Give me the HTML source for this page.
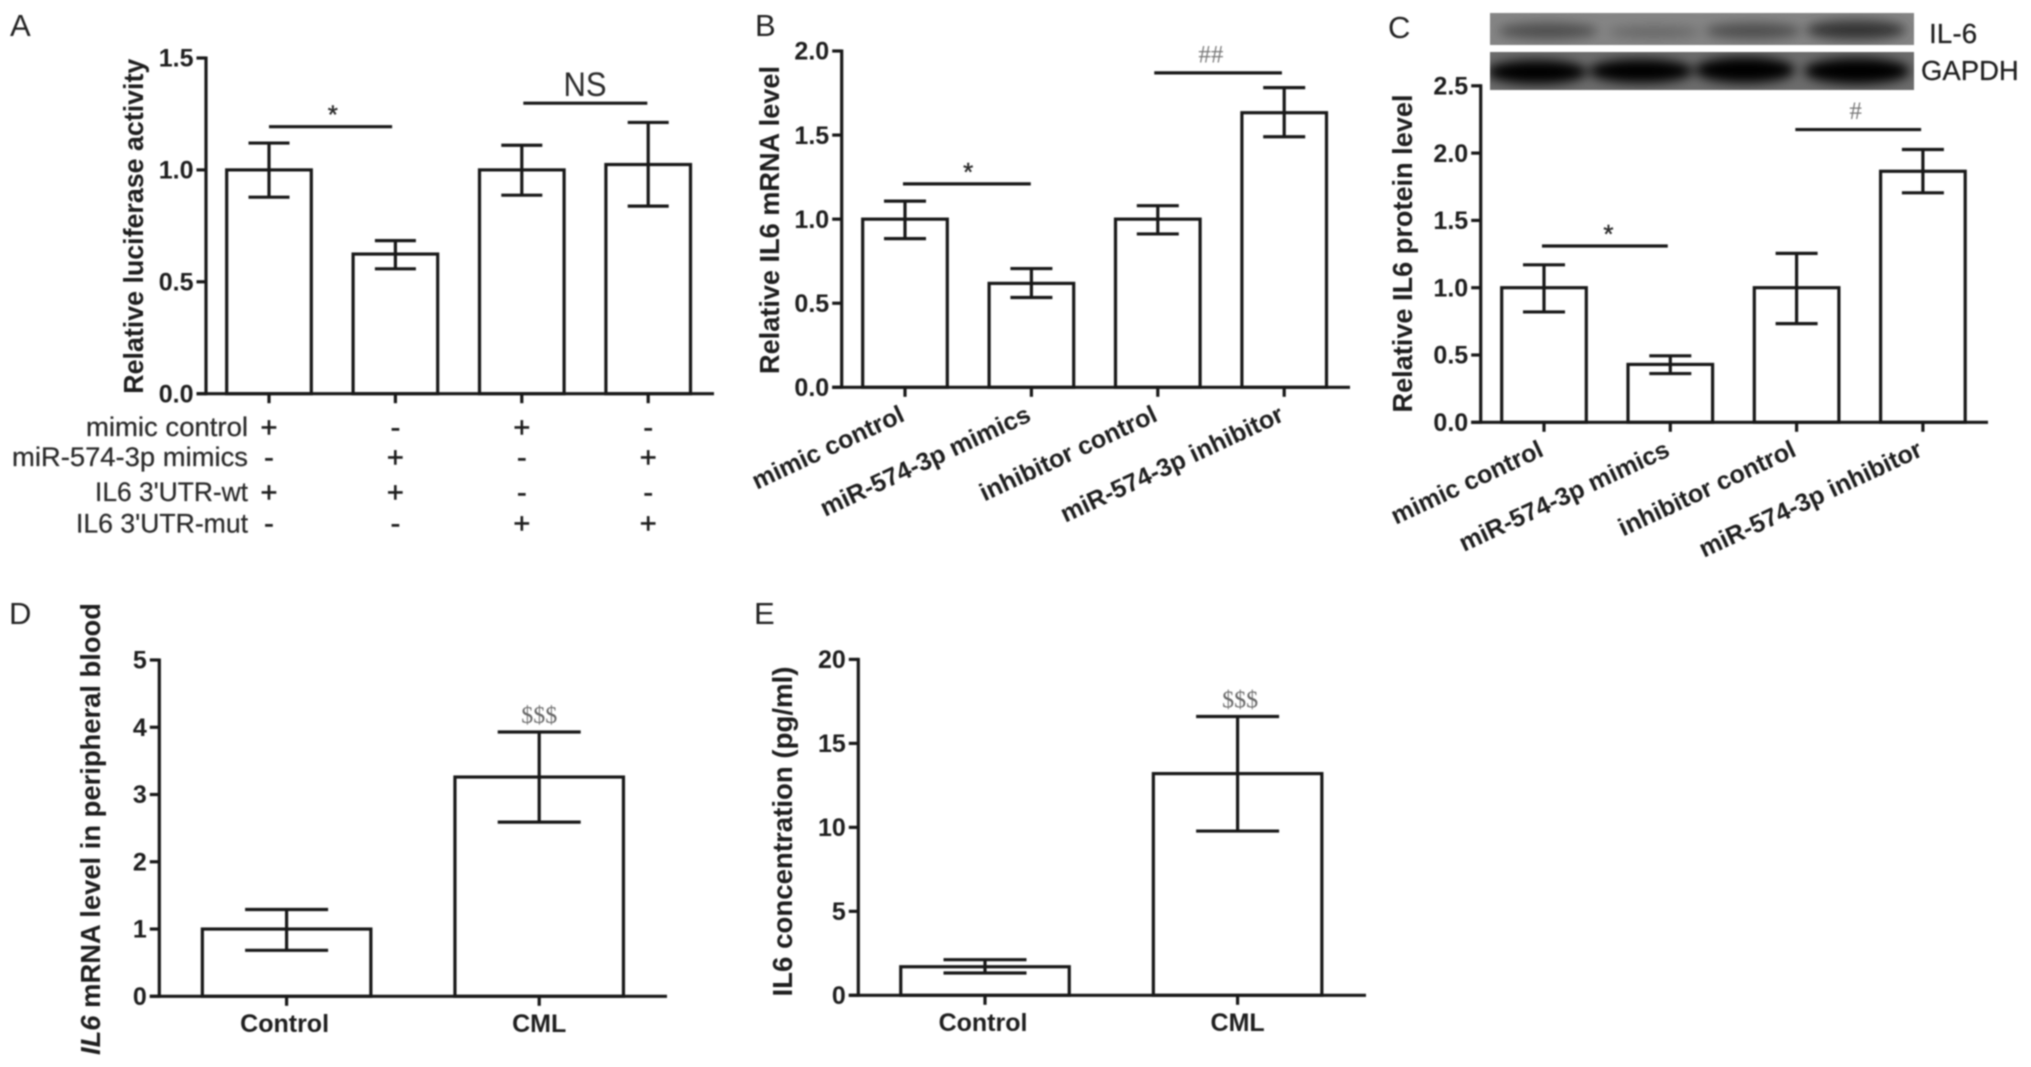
<!DOCTYPE html>
<html lang="en">
<head>
<meta charset="utf-8">
<title>IL6 bar chart figure</title>
<style>
html,body{margin:0;padding:0;background:#fff;}
body{width:2031px;height:1067px;overflow:hidden;}
svg{display:block;filter:blur(0.7px);}
text{font-family:"Liberation Sans",sans-serif;fill:#1e1e1e;}
.letter{font-size:31px;fill:#222;}
.ytitle{font-size:27.5px;font-weight:bold;}
.row{font-size:27px;text-anchor:end;fill:#2a2a2a;stroke:#2a2a2a;stroke-width:0.25;}
</style>
</head>
<body>
<svg id="fig" xmlns="http://www.w3.org/2000/svg" width="2031" height="1067" viewBox="0 0 2031 1067">
  <defs>
    <filter id="blot-blur" x="-20%" y="-80%" width="140%" height="260%"><feGaussianBlur stdDeviation="5.5"></feGaussianBlur></filter>
    <clipPath id="clip-il6"><rect x="1490" y="13" width="424" height="32"></rect></clipPath>
    <clipPath id="clip-gapdh"><rect x="1490" y="52" width="424" height="38"></rect></clipPath>
  </defs>
  <rect width="2031" height="1067" fill="#fff"></rect>

  <text class="letter" x="10" y="36">A</text>
  <text class="letter" x="755" y="36">B</text>
  <text class="letter" x="1388" y="38">C</text>
  <text class="letter" x="9" y="624">D</text>
  <text class="letter" x="754" y="624">E</text>

  <text class="ytitle" transform="translate(143,393.7) rotate(-90)" textLength="335" lengthAdjust="spacingAndGlyphs">Relative luciferase activity</text>
  <text class="ytitle" transform="translate(779,374) rotate(-90)" textLength="308" lengthAdjust="spacingAndGlyphs">Relative IL6 mRNA level</text>
  <text class="ytitle" transform="translate(1412,412.5) rotate(-90)" textLength="318" lengthAdjust="spacingAndGlyphs">Relative IL6 protein level</text>
  <text class="ytitle" transform="translate(100,1055) rotate(-90)" textLength="452" lengthAdjust="spacingAndGlyphs"><tspan font-style="italic">IL6</tspan> mRNA level in peripheral blood</text>
  <text class="ytitle" transform="translate(792,996.5) rotate(-90)" textLength="330" lengthAdjust="spacingAndGlyphs">IL6 concentration (pg/ml)</text>

  <text class="row" x="248" y="436" textLength="162" lengthAdjust="spacingAndGlyphs">mimic control</text>
  <text class="row" x="248" y="466" textLength="236" lengthAdjust="spacingAndGlyphs">miR-574-3p mimics</text>
  <text class="row" x="248" y="501" textLength="153" lengthAdjust="spacingAndGlyphs">IL6 3'UTR-wt</text>
  <text class="row" x="248" y="532.5" textLength="172" lengthAdjust="spacingAndGlyphs">IL6 3'UTR-mut</text>

  <g>
    <rect x="1490" y="13" width="424" height="32" fill="#858585"></rect>
    <g clip-path="url(#clip-il6)"><g filter="url(#blot-blur)">
      <ellipse cx="1548" cy="31" rx="50" ry="8" fill="#4e4e4e"></ellipse>
      <ellipse cx="1654" cy="32" rx="46" ry="6" fill="#666"></ellipse>
      <ellipse cx="1753" cy="31" rx="48" ry="8" fill="#4e4e4e"></ellipse>
      <ellipse cx="1856" cy="30" rx="50" ry="10" fill="#363636"></ellipse>
    </g></g>
  </g>
  <g>
    <rect x="1490" y="52" width="424" height="38" fill="#6c6c6c"></rect>
    <g clip-path="url(#clip-gapdh)"><g filter="url(#blot-blur)">
      <ellipse cx="1537" cy="72" rx="50" ry="12" fill="#060606"></ellipse>
      <ellipse cx="1641" cy="71" rx="52" ry="12" fill="#060606"></ellipse>
      <ellipse cx="1745" cy="70" rx="50" ry="13" fill="#060606"></ellipse>
      <ellipse cx="1857" cy="71" rx="53" ry="13" fill="#020202"></ellipse>
    </g></g>
  </g>
  <text x="1929" y="43" font-size="28" stroke="#1e1e1e" stroke-width="0.25">IL-6</text>
  <text x="1921" y="80" font-size="27.5" stroke="#1e1e1e" stroke-width="0.25">GAPDH</text>
</svg>

<script>
// Panel A data
const aCategories = ['mimic control', 'miR-574-3p mimics', 'mimic control + mut', 'miR-574-3p mimics + mut'];
const aValues = [1.0, 0.624, 1.0, 1.024];
const aErrHigh = [1.12, 0.684, 1.11, 1.212];
const aErrLow = [0.878, 0.558, 0.887, 0.838];
const aTickLabels = ['0.0', '0.5', '1.0', '1.5'];
const aRowMimicControl = ['+', '-', '+', '-'];
const aRowMimics = ['-', '+', '-', '+'];
const aRowWt = ['+', '+', '-', '-'];
const aRowMut = ['-', '-', '+', '+'];

// Panel B data
const bCategories = ['mimic control', 'miR-574-3p mimics', 'inhibitor control', 'miR-574-3p inhibitor'];
const bValues = [1.0, 0.618, 1.0, 1.633];
const bErrHigh = [1.107, 0.706, 1.08, 1.782];
const bErrLow = [0.884, 0.534, 0.912, 1.49];
const bTickLabels = ['0.0', '0.5', '1.0', '1.5', '2.0'];

// Panel C data
const cCategories = ['mimic control', 'miR-574-3p mimics', 'inhibitor control', 'miR-574-3p inhibitor'];
const cValues = [1.0, 0.43, 1.0, 1.865];
const cErrHigh = [1.17, 0.494, 1.255, 2.027];
const cErrLow = [0.82, 0.362, 0.733, 1.705];
const cTickLabels = ['0.0', '0.5', '1.0', '1.5', '2.0', '2.5'];

// Panel D data
const dCategories = ['Control', 'CML'];
const dValues = [1.0, 3.26];
const dErrHigh = [1.29, 3.93];
const dErrLow = [0.684, 2.59];
const dTickLabels = ['0', '1', '2', '3', '4', '5'];

// Panel E data
const eCategories = ['Control', 'CML'];
const eValues = [1.7, 13.2];
const eErrHigh = [2.12, 16.6];
const eErrLow = [1.33, 9.78];
const eTickLabels = ['0', '5', '10', '15', '20'];

// Significance annotations: [from category, to category, level in data units, label, label category position]
const aSignificance = [[0, 0.974, 1.193, '*', 0.505], [2.012, 2.993, 1.298, 'NS', 2.5]];
const bSignificance = [[-0.016, 0.995, 1.21, '*', 0.5], [1.972, 2.982, 1.87, '##', 2.42]];
const cSignificance = [[-0.016, 0.98, 1.31, '*', 0.51], [1.99, 2.986, 2.175, '#', 2.467]];
const dSignificance = [[1, 1, 3.93, '$$$', 1.0]];
const eSignificance = [[1, 1, 16.6, '$$$', 1.01]];

const SVGNS = 'http://www.w3.org/2000/svg';
const root = document.getElementById('fig');
const INK = '#181818';

function make(tag, parent, attrs, txt) {
  const el = document.createElementNS(SVGNS, tag);
  for (const k in attrs) el.setAttribute(k, attrs[k]);
  if (txt !== undefined) el.textContent = txt;
  parent.appendChild(el);
  return el;
}

function seg(parent, x1, y1, x2, y2, w) {
  return make('line', parent, {x1: x1, y1: y1, x2: x2, y2: y2, stroke: INK, 'stroke-width': w || 3.2});
}

function drawPanel(p) {
  const g = make('g', root, {});
  
  

  const nums = p.ticks.map(Number);
  const vMin = nums[0];
  const vMax = nums[nums.length - 1];
  const yScale = v => p.y0 - (v - vMin) / (vMax - vMin) * (p.y0 - p.yTop);
  const xScale = i => p.xFirst + i * p.xStep;

  // bars
  p.values.forEach((v, i) => {
    const bar = make('rect', g, {
      x: xScale(i) - p.barW / 2, y: yScale(v),
      width: p.barW, height: p.y0 - yScale(v),
      fill: '#fff', stroke: INK, 'stroke-width': 3.2
    });
    
    
  });

  // error bars
  p.values.forEach((v, i) => {
    const eb = make('g', g, {});
    
    
    const cx = xScale(i);
    const hi = yScale(p.high[i]);
    const lo = yScale(p.low[i]);
    seg(eb, cx, hi, cx, lo);
    seg(eb, cx - p.capW / 2, hi, cx + p.capW / 2, hi);
    seg(eb, cx - p.capW / 2, lo, cx + p.capW / 2, lo);
  });

  // axes
  const yAxis = seg(g, p.axisX, p.yTop - 1.5, p.axisX, p.y0 + 1.5);
  
  
  const xAxis = seg(g, p.axisX - 9.5, p.y0, p.xEnd, p.y0);
  
  

  // y ticks
  p.ticks.forEach((lab, i) => {
    const yy = yScale(nums[i]);
    const tk = seg(g, p.axisX - 9.5, yy, p.axisX, yy);
    
    
    const tl = make('text', g, {
      x: p.axisX - 12.5, y: yy + 8.7, 'text-anchor': 'end',
      'font-size': 25, 'font-weight': 'bold'
    }, lab);
    
    
  });

  // x ticks and labels
  p.categories.forEach((c, i) => {
    const cx = xScale(i);
    const tk = seg(g, cx, p.y0, cx, p.y0 + 9.5);
    
    
    if (p.xLabel === 'rotated') {
      const t = make('text', g, {
        transform: 'translate(' + (cx + 1) + ',' + (p.y0 + 33) + ') rotate(-25)',
        'text-anchor': 'end', 'font-size': 25.1, 'font-weight': 'bold'
      }, c);
      
      
    } else if (p.xLabel === 'flat') {
      const t = make('text', g, {
        x: cx - (i === 0 ? 2 : 0), y: p.y0 + 35.5, 'text-anchor': 'middle',
        'font-size': 25, 'font-weight': 'bold'
      }, c);
      
      
    }
  });

  // significance annotations
  p.sig.forEach(s => {
    const ly = yScale(s[2]);
    const x1 = xScale(s[0]);
    const x2 = xScale(s[1]);
    if (s[0] !== s[1]) {
      const ln = seg(g, x1, ly, x2, ly);
      
      
    }
    const mid = xScale(s[4]);
    let attrs;
    if (s[3] === 'NS') {
      attrs = {x: mid, y: ly - 7, 'font-size': 34, 'text-anchor': 'middle', style: 'fill:#2a2a2a', textLength: 43, lengthAdjust: 'spacingAndGlyphs'};
    } else if (s[3] === '*') {
      attrs = {x: mid, y: ly - 3, 'font-size': 26, 'text-anchor': 'middle', style: 'fill:#2a2a2a', stroke: '#2a2a2a', 'stroke-width': 0.4};
    } else if (s[3] === '$$$') {
      attrs = {x: mid, y: ly - 9, 'font-size': 24, 'text-anchor': 'middle', style: 'font-family:"Liberation Serif",serif;fill:#666'};
    } else {
      attrs = {x: mid, y: ly - 10.5, 'font-size': 25, 'text-anchor': 'middle', style: 'font-family:"Liberation Serif",serif;fill:#777'};
    }
    const a = make('text', g, attrs, s[3]);
    
    
  });

  // treatment matrix under panel A
  (p.rows || []).forEach((r, ri) => {
    r.forEach((sym, i) => {
      const m = make('text', g, {
        x: xScale(i), y: p.rowY[ri], 'text-anchor': 'middle',
        'font-size': 29, stroke: '#222', 'stroke-width': 0.6
      }, sym);
      
      
    });
  });
}

drawPanel({id: 'a', categories: aCategories, values: aValues, high: aErrHigh, low: aErrLow, ticks: aTickLabels, sig: aSignificance,
  axisX: 206, y0: 393.7, yTop: 58, xEnd: 714, xFirst: 269, xStep: 126.4, barW: 84.6, capW: 41, xLabel: 'none',
  rows: [aRowMimicControl, aRowMimics, aRowWt, aRowMut], rowY: [437, 467, 502, 533]});

drawPanel({id: 'b', categories: bCategories, values: bValues, high: bErrHigh, low: bErrLow, ticks: bTickLabels, sig: bSignificance,
  axisX: 841.7, y0: 387.3, yTop: 51, xEnd: 1350, xFirst: 905, xStep: 126.4, barW: 84.6, capW: 42, xLabel: 'rotated'});

drawPanel({id: 'c', categories: cCategories, values: cValues, high: cErrHigh, low: cErrLow, ticks: cTickLabels, sig: cSignificance,
  axisX: 1480.7, y0: 422.3, yTop: 85.8, xEnd: 1988, xFirst: 1544, xStep: 126.3, barW: 84.6, capW: 42, xLabel: 'rotated'});

drawPanel({id: 'd', categories: dCategories, values: dValues, high: dErrHigh, low: dErrLow, ticks: dTickLabels, sig: dSignificance,
  axisX: 159.3, y0: 996.3, yTop: 660, xEnd: 667, xFirst: 286.6, xStep: 252.6, barW: 168.5, capW: 83, xLabel: 'flat'});

drawPanel({id: 'e', categories: eCategories, values: eValues, high: eErrHigh, low: eErrLow, ticks: eTickLabels, sig: eSignificance,
  axisX: 858.3, y0: 995.3, yTop: 659.4, xEnd: 1366, xFirst: 985, xStep: 252.6, barW: 168.5, capW: 83, xLabel: 'flat'});
</script>
</body>
</html>
